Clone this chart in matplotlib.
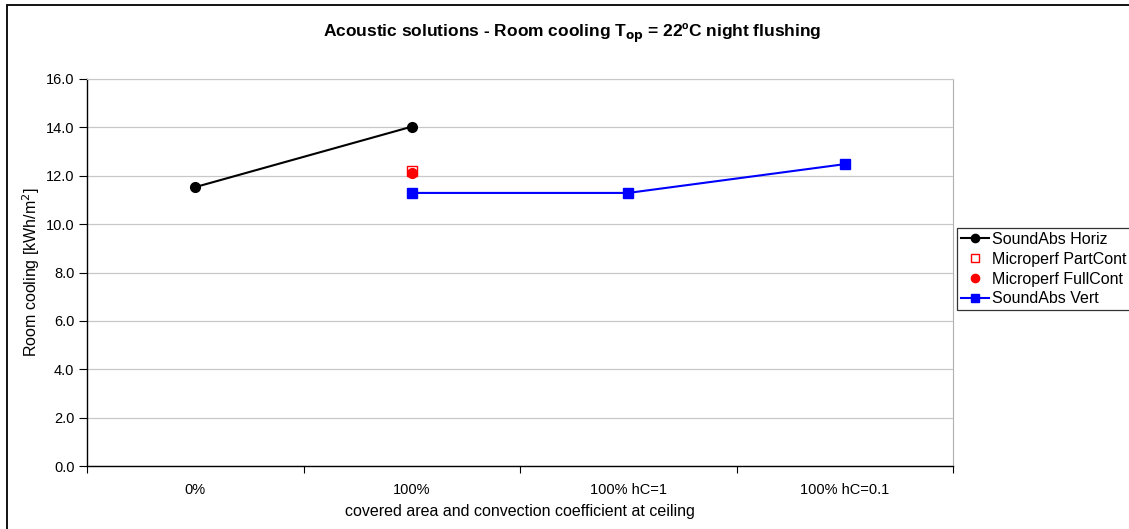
import matplotlib
matplotlib.use("Agg")
import matplotlib.pyplot as plt
import matplotlib.patches as patches
import numpy as np

plt.rcParams["font.family"] = ["Liberation Sans", "DejaVu Sans"]

categories = ["0%", "100%", "100% hC=1", "100% hC=0.1"]
horiz_x = [0, 1]
horiz_y = [11.53, 14.03]
partcont_x = [1]
partcont_y = [12.2]
fullcont_x = [1]
fullcont_y = [12.13]
vert_x = [1, 2, 3]
vert_y = [11.29, 11.29, 12.48]

W, H = 1129, 529
fig = plt.figure(figsize=(W / 100, H / 100), dpi=100)
ax = fig.add_axes([87 / W, 1 - 466 / H, (953 - 87) / W, (466 - 79) / H])

# outer chart border (only top and left visible in the original crop)
fig.patches.append(
    patches.Rectangle(
        (7 / W, -0.2), 1.5, 1.2 - 5 / H,
        transform=fig.transFigure, fill=False, edgecolor="black", lw=1.3,
    )
)

ax.plot(horiz_x, horiz_y, color="black", lw=1.5, marker="o", ms=7,
        label="SoundAbs Horiz", zorder=3)
ax.plot(partcont_x, partcont_y, ls="none", marker="s", ms=7, mfc="white",
        mec="red", mew=1, label="Microperf PartCont", zorder=3)
ax.plot(fullcont_x, fullcont_y, ls="none", marker="o", ms=7, color="red",
        label="Microperf FullCont", zorder=4)
ax.plot(vert_x, vert_y, color="blue", lw=1.5, marker="s", ms=7,
        label="SoundAbs Vert", zorder=3)

ax.set_xlim(-0.5, len(categories) - 0.5)
ax.set_ylim(0, 16)
ax.set_yticks(np.arange(0, 16.1, 2))
ax.set_yticklabels([f"{v:.1f}" for v in np.arange(0, 16.1, 2)])
ax.set_xticks(np.arange(-0.5, len(categories), 1))
ax.set_xticklabels([])
ax.set_xticks(range(len(categories)), minor=True)
ax.set_xticklabels(categories, minor=True)
ax.tick_params(axis="x", which="minor", length=0, pad=12, labelsize=10.5)
ax.tick_params(axis="x", which="major", length=5, direction="out", width=0.8)
ax.tick_params(axis="y", length=6, direction="out", width=0.8, labelsize=10.5, pad=3)

ax.grid(axis="y", color="#c8c8c8", lw=0.9)
ax.set_axisbelow(True)
ax.spines["top"].set_color("#c8c8c8")
ax.spines["right"].set_color("#b0b0b0")
ax.spines["left"].set_linewidth(1.0)
ax.spines["bottom"].set_linewidth(1.0)

ax.set_ylabel("Room cooling [kWh/m$^2$]", fontsize=11.5, labelpad=3)
ax.set_xlabel("covered area and convection coefficient at ceiling", fontsize=11.5,
              labelpad=5)
fig.text(572 / W, 1 - 33 / H,
         "Acoustic solutions - Room cooling T$_{\\mathbf{op}}$ = 22ºC night flushing",
         ha="center", va="center", fontsize=12.5, fontweight="bold")

leg = fig.legend(loc="upper left", bbox_to_anchor=(957 / W, 1 - 228 / H),
                 fontsize=11.5, frameon=True, fancybox=False, borderpad=0.25,
                 labelspacing=0.3, handlelength=1.75, handletextpad=0.2,
                 borderaxespad=0, markerscale=0.85)
leg.get_frame().set_edgecolor("black")
leg.get_frame().set_linewidth(0.9)

fig.savefig("out.png", dpi=100)
